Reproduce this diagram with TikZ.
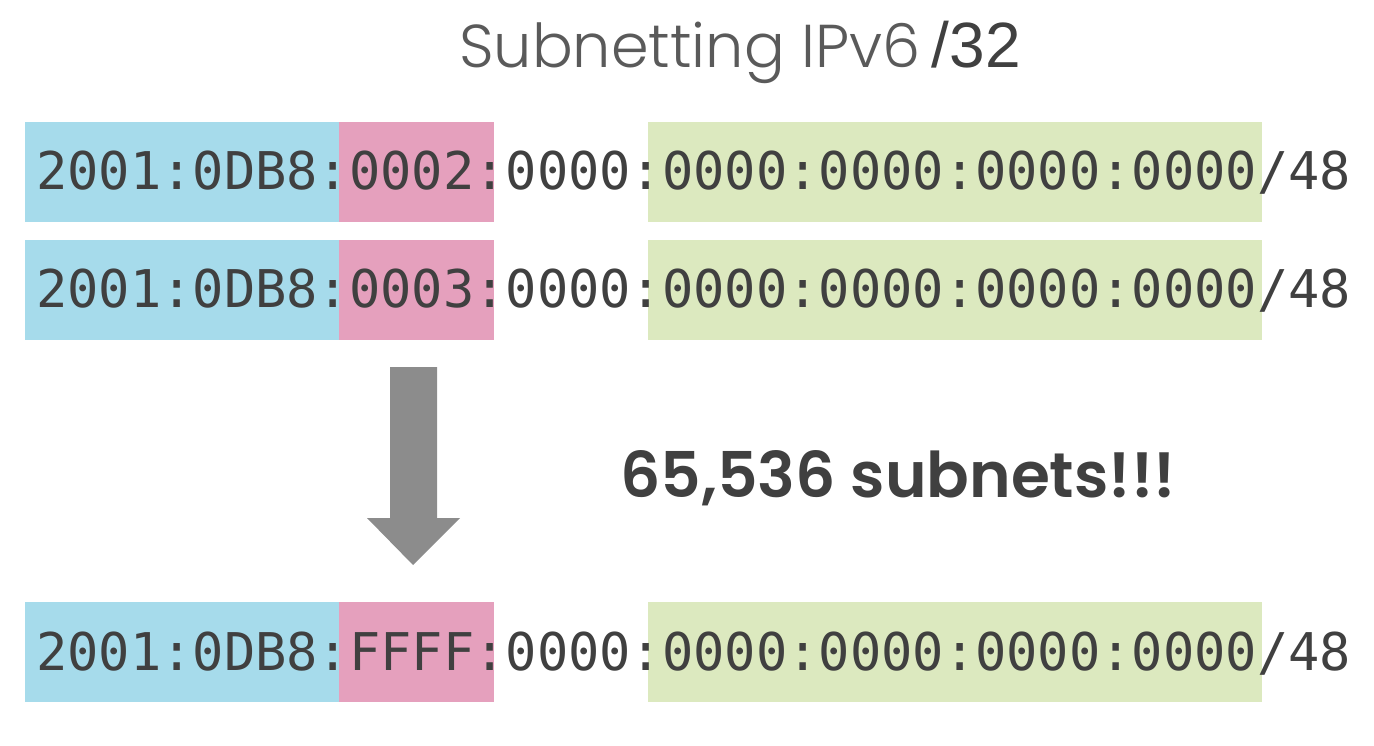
\documentclass[tikz,border=0pt]{standalone}
\usepackage{fontspec}
\newfontfamily\addrfont[RawFeature=+zero]{DejaVu Sans Mono}
\newfontfamily\titlefont{Poppins Light}
\newfontfamily\bigfont{Poppins SemiBold}
\newfontfamily\numfont{Liberation Sans}
\definecolor{cblue}{RGB}{166,219,235}
\definecolor{cpink}{RGB}{229,160,189}
\definecolor{cgreen}{RGB}{220,233,191}
\definecolor{ctext}{RGB}{64,64,64}
\definecolor{ctitle}{RGB}{90,90,90}
\definecolor{carrow}{RGB}{140,140,140}
\tikzset{
  band/.style={draw=none, inner sep=0pt, outer sep=0pt, anchor=north west, minimum height=100pt},
  bluebox/.style={band, fill=cblue},
  pinkbox/.style={band, fill=cpink},
  greenbox/.style={band, fill=cgreen},
  addr/.style={inner sep=0pt, anchor=base west, text=ctext, font=\addrfont\fontsize{52}{60}\selectfont},
}
\begin{document}
\begin{tikzpicture}[x=1pt, y=-1pt]
\useasboundingbox (0,0) rectangle (1374,746);
% title
\node[inner sep=0pt, anchor=base west, text=ctitle, font=\titlefont\fontsize{60.5}{70}\selectfont] (title) at (459,68) {Subnetting IPv6};
\node[inner sep=0pt, anchor=base west, text=ctext, font=\numfont\fontsize{64}{70}\selectfont] (pref) at (title.base east) {\,/32};
% row 1
\node[bluebox, minimum width=314pt] (b1) at (25,122) {};
\node[pinkbox, minimum width=155pt] (p1) at (339,122) {};
\node[greenbox, minimum width=614pt] (g1) at (648,122) {};
\node[addr] (t1) at (36,190) {2001:0DB8:0002:0000:0000:0000:0000:0000/48};
% row 2
\node[bluebox, minimum width=314pt] (b2) at (25,240) {};
\node[pinkbox, minimum width=155pt] (p2) at (339,240) {};
\node[greenbox, minimum width=614pt] (g2) at (648,240) {};
\node[addr] (t2) at (36,308) {2001:0DB8:0003:0000:0000:0000:0000:0000/48};
% row 3
\node[bluebox, minimum width=314pt] (b3) at (25,602) {};
\node[pinkbox, minimum width=155pt] (p3) at (339,602) {};
\node[greenbox, minimum width=614pt] (g3) at (648,602) {};
\node[addr] (t3) at (36,670) {2001:0DB8:FFFF:0000:0000:0000:0000:0000/48};
% arrow
\fill[carrow] (390,367) -- (437,367) -- (437,518) -- (460,518) -- (413,565) -- (367,518) -- (390,518) -- cycle;
% count
\node[inner sep=0pt, anchor=base west, text=ctext, font=\bigfont\fontsize{63}{70}\selectfont] (count) at (620,497) {65,536 subnets!!!};
\end{tikzpicture}
\end{document}
